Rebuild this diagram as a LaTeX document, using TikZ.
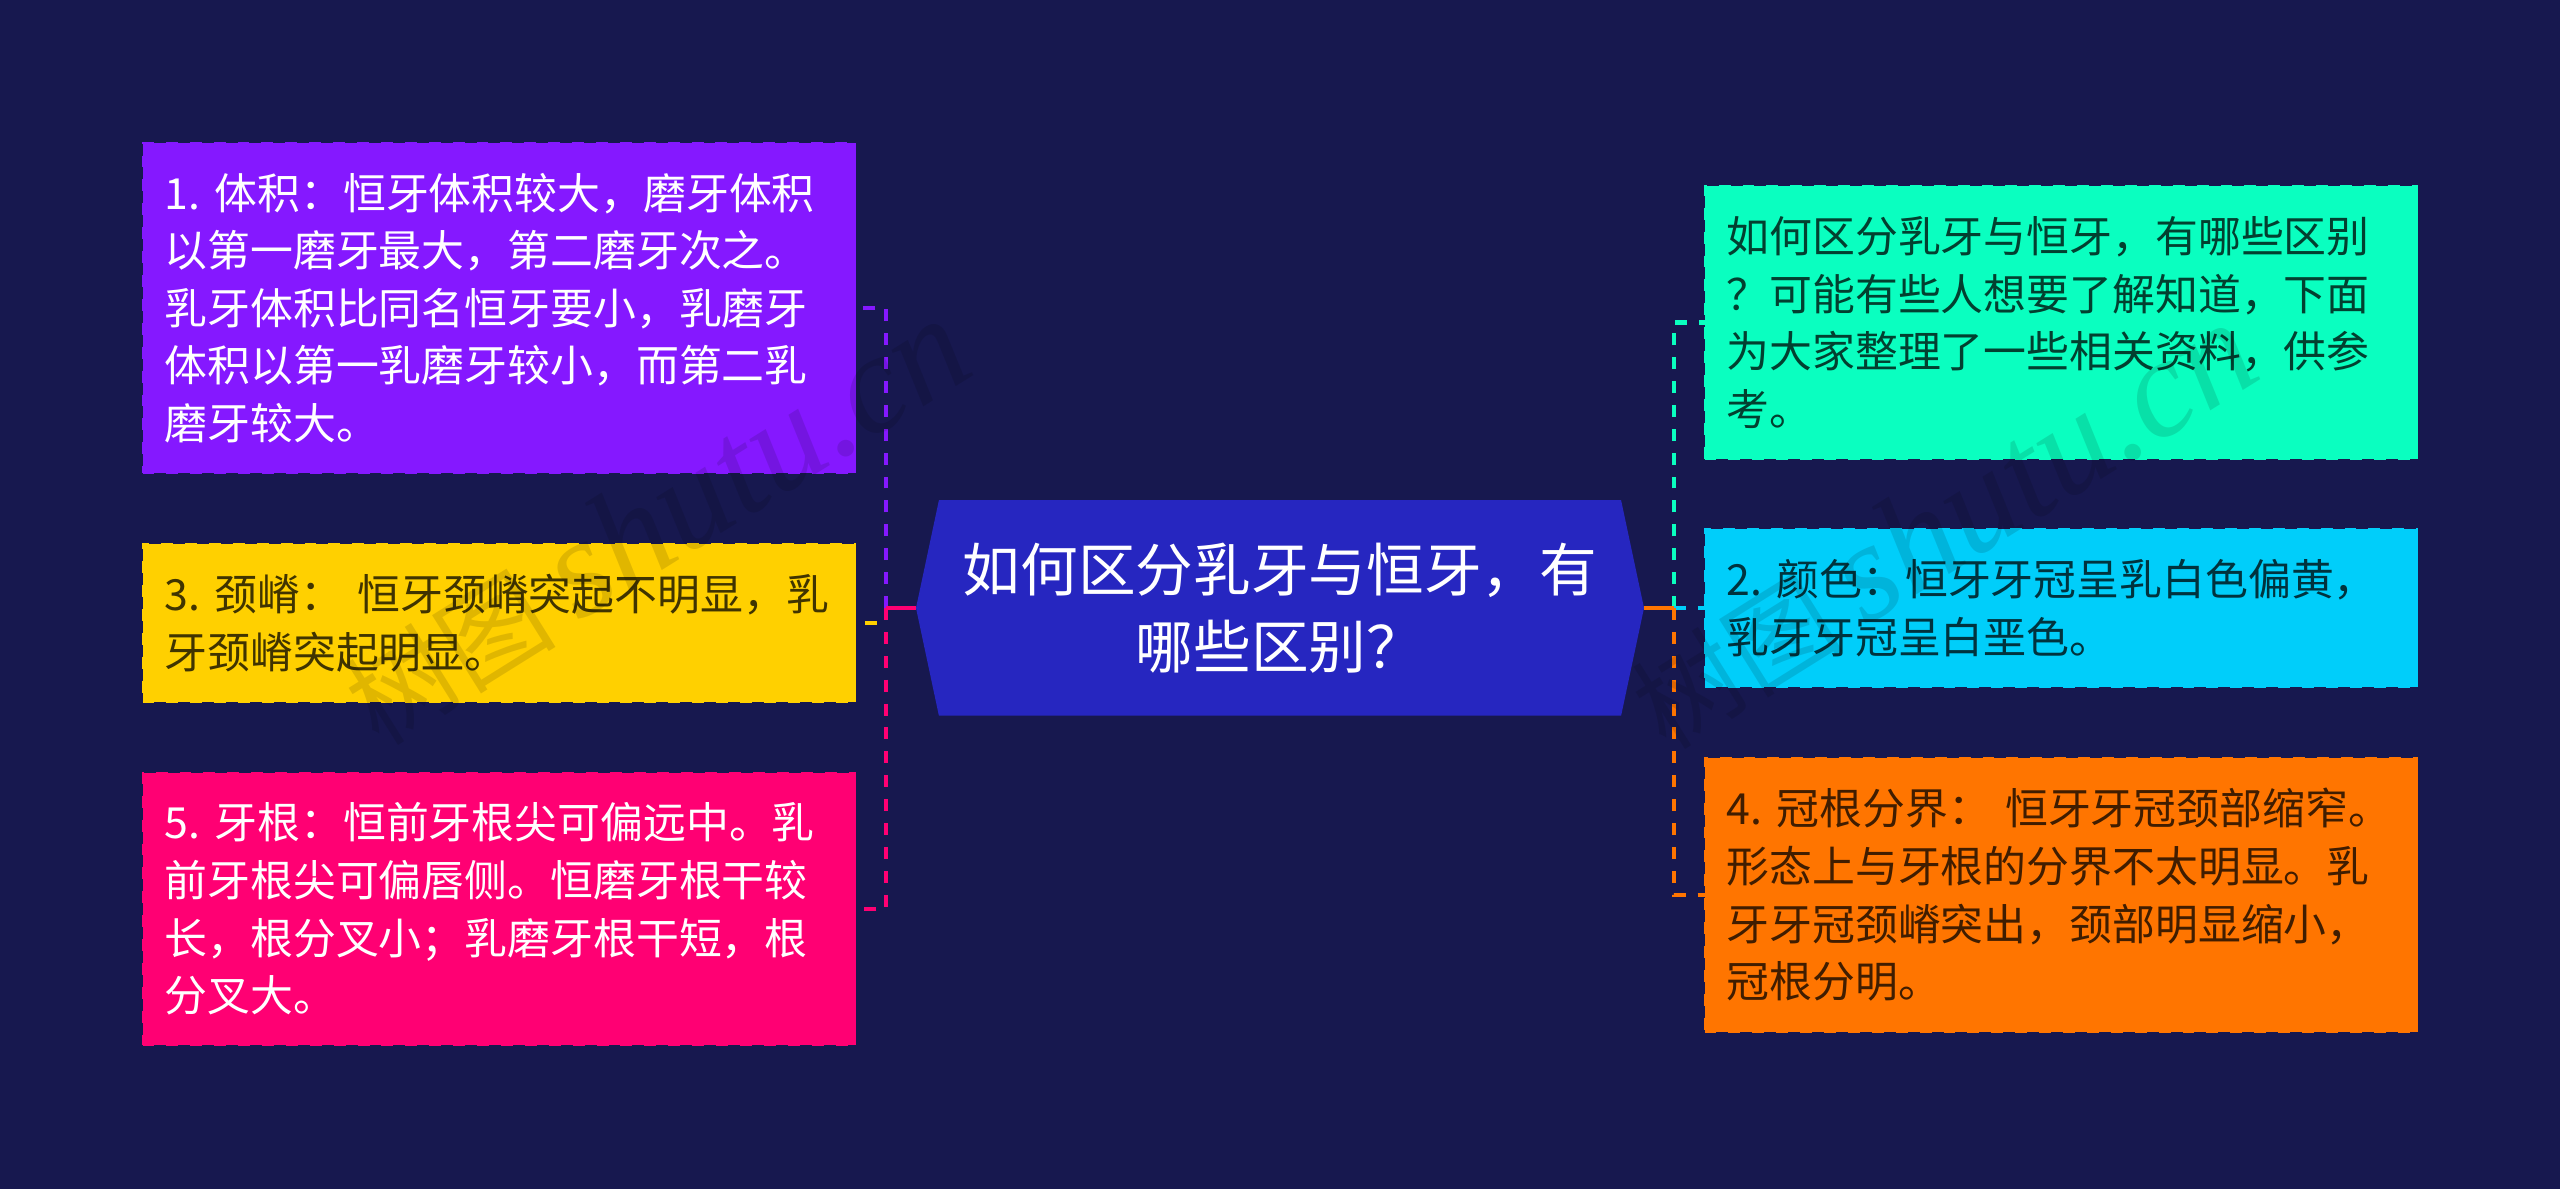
\documentclass[tikz,border=0pt]{standalone}
\usepackage{fontspec}
\setmainfont{Noto Sans CJK SC}
\newfontfamily\markfont{Liberation Serif}
\usetikzlibrary{positioning,shapes.symbols}
\definecolor{bgcolor}{HTML}{17184F}
\definecolor{titlecolor}{HTML}{2626C0}
\definecolor{violetc}{HTML}{8518FF}
\definecolor{yellowc}{HTML}{FFD000}
\definecolor{pinkc}{HTML}{FF0073}
\definecolor{mintc}{HTML}{0AFFC0}
\definecolor{skyc}{HTML}{00CEFA}
\definecolor{orangec}{HTML}{FF7500}
\tikzset{
  box/.style={
    rectangle,
    fill=#1,
    draw=#1,
    line width=.55pt,
    dash pattern=on 3.4pt off 3.4pt,
    outer sep=0pt,
    inner xsep=.22cm,
    inner ysep=0pt,
    text width=6.69cm,
    minimum width=7.13cm,
    align=left,
    font=\fontsize{12.2}{16.4}\selectfont\frenchspacing},
  lightbox/.style={box=#1, text=white},
  darkbox/.style={box=#1, text=black, text opacity=.75},
  titlebox/.style={
    signal,
    signal to=west and east,
    signal pointer angle=156,
    fill=titlecolor,
    text=white,
    align=center,
    inner sep=0pt,
    outer sep=0pt,
    minimum width=7.28cm,
    minimum height=2.155cm,
    font=\fontsize{16.4}{21.8}\selectfont},
  line/.style={draw=#1, line width=1.4pt, dash pattern=on 3.4pt off 3.4pt},
  stub/.style={draw=#1, line width=1.4pt},
  watermark/.style={
    rotate=32,
    text=black,
    text opacity=.12,
    font=\fontsize{30}{30}\selectfont},
}

\begin{document}
\begin{tikzpicture}

\fill[bgcolor] (0,0) rectangle (25.6,11.89);
\useasboundingbox (0,0) rectangle (25.6,11.89);

\node[titlebox] (title) at (12.8,5.81) {
如何区分乳牙与恒牙，有\\
哪些区别？
};

\node[lightbox=violetc, minimum height=3.3cm] (volume) at (4.99,8.81) {
1. 体积：恒牙体积较大，磨牙体积\\
以第一磨牙最大，第二磨牙次之。\\
乳牙体积比同名恒牙要小，乳磨牙\\
体积以第一乳磨牙较小，而第二乳\\
磨牙较大。
};

\node[darkbox=yellowc, minimum height=1.58cm, below=.71cm of volume] (ridge) {
3. 颈嵴： 恒牙颈嵴突起不明显，乳\\
牙颈嵴突起明显。
};

\node[lightbox=pinkc, minimum height=2.72cm, below=.71cm of ridge] (root) {
5. 牙根：恒前牙根尖可偏远中。乳\\
前牙根尖可偏唇侧。恒磨牙根干较\\
长，根分叉小；乳磨牙根干短，根\\
分叉大。
};

\node[darkbox=mintc, minimum height=2.73cm] (intro) at (20.61,8.665) {
如何区分乳牙与恒牙，有哪些区别\\
？可能有些人想要了解知道，下面\\
为大家整理了一些相关资料，供参\\
考。
};

\node[darkbox=skyc, minimum height=1.58cm, below=.70cm of intro] (color) {
2. 颜色：恒牙牙冠呈乳白色偏黄，\\
乳牙牙冠呈白垩色。
};

\node[darkbox=orangec, minimum height=2.74cm, below=.71cm of color] (neck) {
4. 冠根分界： 恒牙牙冠颈部缩窄。\\
形态上与牙根的分界不太明显。乳\\
牙牙冠颈嵴突出，颈部明显缩小，\\
冠根分明。
};

\coordinate (ltrunk) at (8.86,5.81);
\coordinate (rtrunk) at (16.74,5.81);

\draw[line=violetc] (ltrunk) |- (volume.east);
\draw[line=yellowc] (ltrunk) |- (ridge.east);
\draw[line=pinkc] (ltrunk) |- (root.east);
\draw[stub=pinkc] (title.west) -- (ltrunk);

\draw[line=mintc] (rtrunk) |- (intro.west);
\draw[line=skyc] (rtrunk) -- (color.west);
\draw[line=orangec] (rtrunk) |- (neck.west);
\draw[stub=orangec] (title.east) -- (rtrunk);

\node[watermark] (markleft) at (6.56,6.67) {树图 {\markfont\itshape\fontsize{40}{40}\selectfont shutu.cn}};
\node[watermark] (markright) at (19.43,6.63) {树图 {\markfont\itshape\fontsize{40}{40}\selectfont shutu.cn}};

\end{tikzpicture}
\end{document}
